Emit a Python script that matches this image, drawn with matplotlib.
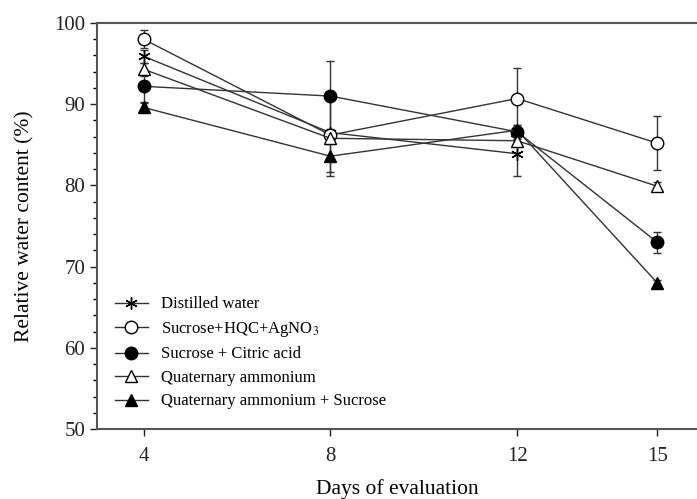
import numpy as np
import matplotlib.pyplot as plt
from matplotlib.ticker import MultipleLocator
from matplotlib.lines import Line2D

plt.rcParams['font.family'] = ['Liberation Serif', 'DejaVu Serif']
plt.rcParams['mathtext.fontset'] = 'stix'

# days of evaluation
days = [4, 8, 12, 15]

# relative water content (%) per treatment, with error bars
distilled = [95.9, 86.5, 83.9]
distilled_err = [0.8, 4.9, 2.7]
hqc_agno3 = [98.0, 86.2, 90.7, 85.2]
hqc_agno3_err = [1.1, 0.8, 3.8, 3.3]
citric = [92.2, 91.0, 86.6, 73.0]
citric_err = [1.9, 4.3, 0.9, 1.3]
quat = [94.3, 85.8, 85.5, 79.9]
quat_err = [0.8, 0.7, 0.6, 0.5]
quat_sucrose = [89.6, 83.6, 86.8, 68.0]
quat_sucrose_err = [0.5, 2.4, 0.6, 0.4]

labels = ['Distilled water', 'Sucrose+HQC+AgNO$_3$', 'Sucrose + Citric acid',
          'Quaternary ammonium', 'Quaternary ammonium + Sucrose']

fig = plt.figure(figsize=(6.97, 4.99), dpi=100)
ax = fig.add_axes([0.139, 0.140, 0.861, 0.814])

lc = '#333333'
common = dict(color=lc, lw=1.0, ecolor=lc, elinewidth=1.0, capsize=3, capthick=1.0,
              markeredgecolor='black', markeredgewidth=1.0)
styles = [((6, 2, 0), 9, 'black'), ('o', 9, 'white'), ('o', 9, 'black'),
          ('^', 9, 'white'), ('^', 9, 'black')]
series = [(days[:3], distilled, distilled_err), (days, hqc_agno3, hqc_agno3_err),
          (days, citric, citric_err), (days, quat, quat_err),
          (days, quat_sucrose, quat_sucrose_err)]

handles = []
for (x, y, e), (m, ms, fc), lab in zip(series, styles, labels):
    ax.errorbar(x, y, yerr=e, marker=m, ms=ms, markerfacecolor=fc, **common)
    handles.append(Line2D([], [], color=lc, lw=1.0, marker=m, ms=ms, markerfacecolor=fc,
                          markeredgecolor='black', label=lab))

ax.set_xlim(3, 15.85)
ax.set_ylim(50, 100)
ax.set_xticks(days)
ax.set_yticks(np.arange(50, 101, 10))
ax.yaxis.set_minor_locator(MultipleLocator(2))
ax.tick_params(axis='both', labelsize=15, direction='out', length=5, width=1, colors='#222222')
ax.tick_params(axis='x', pad=8)
ax.tick_params(axis='y', which='minor', length=3, width=1)

for s in ['left', 'bottom', 'top']:
    ax.spines[s].set_color('#555555')
    ax.spines[s].set_linewidth(1.5)
ax.spines['right'].set_visible(False)

ax.set_xlabel('Days of evaluation', fontsize=15.5, labelpad=9)
ax.set_ylabel('Relative water content (%)', fontsize=15.5, labelpad=14)

ax.legend(handles=handles, loc='lower left', frameon=False, fontsize=12, handlelength=2.0,
          handletextpad=0.8, labelspacing=0.45, borderaxespad=0.3,
          bbox_to_anchor=(0.01, 0.02))

fig.savefig('out.png', dpi=100)
